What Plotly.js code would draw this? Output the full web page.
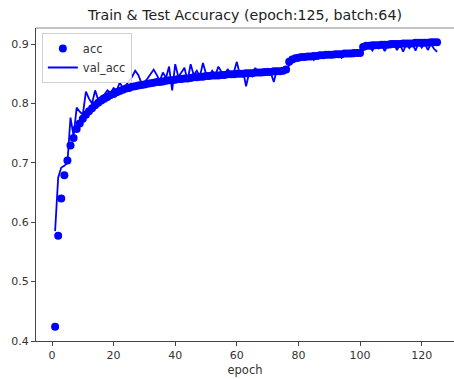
<!DOCTYPE html>
<html>
<head>
<meta charset="utf-8">
<script src="https://cdn.plot.ly/plotly-3.0.1.min.js"></script>
<style>html,body{margin:0;padding:0;background:#fff;}#chart{width:454px;height:379px;}</style>
</head>
<body>
<div id="chart"></div>
<script>
const epochs = Array.from({length: 125}, (_, i) => i + 1);

const acc = [
0.424,0.577,0.640,0.679,0.704,0.729,0.742,0.757,0.766,0.774,
0.781,0.787,0.792,0.797,0.801,0.805,0.808,0.811,0.814,0.816,
0.819,0.821,0.823,0.825,0.826,0.828,0.829,0.830,0.831,0.832,
0.833,0.834,0.835,0.836,0.836,0.837,0.838,0.839,0.839,0.840,
0.841,0.841,0.842,0.842,0.843,0.844,0.844,0.845,0.845,0.846,
0.846,0.847,0.847,0.847,0.848,0.848,0.849,0.849,0.849,0.850,
0.850,0.850,0.851,0.851,0.851,0.852,0.852,0.852,0.853,0.853,
0.853,0.854,0.854,0.854,0.855,0.857,0.870,0.874,0.876,0.877,
0.878,0.878,0.879,0.879,0.880,0.880,0.881,0.881,0.882,0.882,
0.882,0.883,0.883,0.883,0.884,0.884,0.884,0.885,0.885,0.885,
0.895,0.897,0.897,0.898,0.898,0.898,0.899,0.899,0.899,0.900,
0.900,0.900,0.900,0.901,0.901,0.901,0.901,0.902,0.902,0.902,
0.902,0.902,0.903,0.903,0.903
];

const val_acc = [
0.585,0.675,0.692,0.695,0.700,0.776,0.745,0.793,0.786,0.781,
0.820,0.808,0.800,0.822,0.806,0.812,0.815,0.822,0.818,0.826,
0.822,0.835,0.826,0.830,0.838,0.845,0.855,0.848,0.835,0.836,
0.842,0.850,0.857,0.848,0.838,0.852,0.843,0.862,0.822,0.866,
0.845,0.852,0.860,0.838,0.866,0.848,0.855,0.845,0.868,0.850,
0.846,0.855,0.847,0.862,0.852,0.844,0.858,0.849,0.852,0.870,
0.848,0.855,0.829,0.852,0.846,0.860,0.850,0.855,0.848,0.858,
0.852,0.836,0.857,0.851,0.858,0.855,0.865,0.876,0.872,0.878,
0.874,0.880,0.876,0.879,0.873,0.881,0.877,0.882,0.878,0.880,
0.884,0.879,0.883,0.877,0.885,0.880,0.886,0.879,0.884,0.881,
0.895,0.892,0.898,0.889,0.897,0.893,0.899,0.888,0.898,0.894,
0.900,0.890,0.899,0.887,0.900,0.893,0.901,0.889,0.902,0.894,
0.901,0.890,0.900,0.892,0.887
];

const xTicks = [0, 20, 40, 60, 80, 100, 120];
const yTicks = [0.4, 0.5, 0.6, 0.7, 0.8, 0.9];
const yTickText = ['0.4', '0.5', '0.6', '0.7', '0.8', '0.9'];

const font = 'DejaVu Sans, sans-serif';

const traces = [
  {
    x: epochs, y: acc, name: 'acc', type: 'scatter', mode: 'markers',
    marker: {color: '#0000ff', size: 8}
  },
  {
    x: epochs, y: val_acc, name: 'val_acc', type: 'scatter', mode: 'lines',
    line: {color: '#0000ff', width: 1.8}
  }
];

const layout = {
  width: 454, height: 379,
  margin: {l: 36, r: 0, t: 28, b: 38},
  paper_bgcolor: '#fff', plot_bgcolor: '#fff',
  font: {family: font, size: 11, color: '#333'},
  title: {text: 'Train & Test Accuracy (epoch:125, batch:64)', font: {family: font, size: 14.2, color: '#222'},
          x: 0.5, xref: 'paper', xanchor: 'center', y: 1, yref: 'paper', yanchor: 'bottom', pad: {b: 8}},
  showlegend: true,
  legend: {x: 0.014, y: 0.984, xanchor: 'left', yanchor: 'top', bgcolor: 'rgba(255,255,255,0.85)',
           bordercolor: '#d0d0d0', borderwidth: 1, font: {family: font, size: 11.5, color: '#333'},
           itemwidth: 30, tracegroupgap: 0},
  xaxis: {
    range: [-5.2, 130.5], tickvals: xTicks, ticktext: xTicks.map(String),
    showgrid: false, zeroline: false, showline: true, linecolor: '#444', linewidth: 1,
    ticks: 'outside', ticklen: 4, tickcolor: '#444',
    title: {text: 'epoch', font: {family: font, size: 11.5, color: '#333'}, standoff: 4}
  },
  yaxis: {
    range: [0.4, 0.927], tickvals: yTicks, ticktext: yTickText,
    showgrid: false, zeroline: false, showline: true, linecolor: '#444', linewidth: 1,
    ticks: 'outside', ticklen: 4, tickcolor: '#444'
  },
  shapes: [
    {type: 'line', xref: 'paper', yref: 'paper', x0: 0, x1: 1, y0: 1, y1: 1,
     line: {color: '#b0b0b0', width: 1.5}}
  ]
};

Plotly.newPlot('chart', traces, layout, {staticPlot: true, displayModeBar: false});
</script>
</body>
</html>
